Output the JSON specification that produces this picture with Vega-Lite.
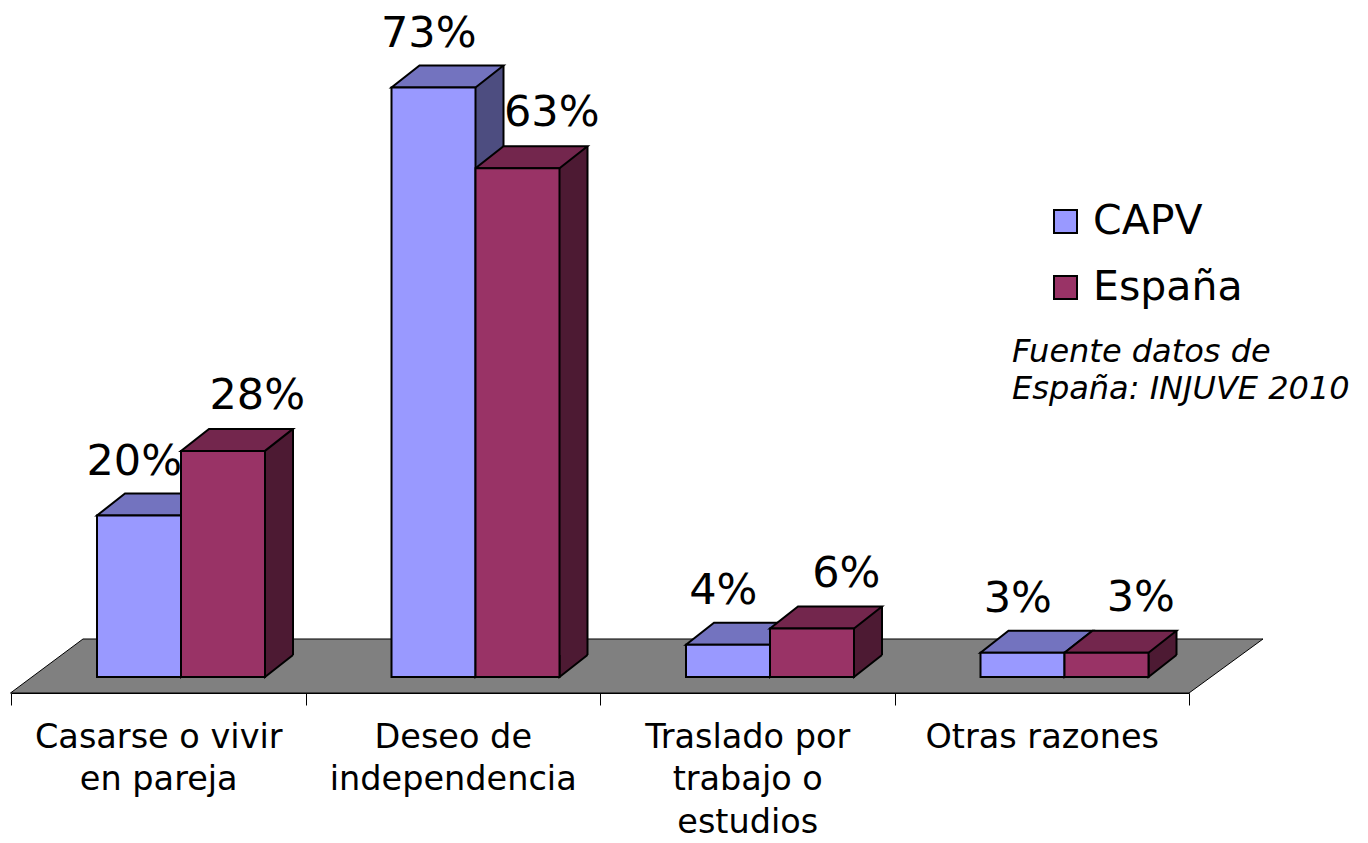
{
  "$schema": "https://vega.github.io/schema/vega-lite/v6.json",
  "autosize": {"type": "none"},
  "padding": {"left": 11, "top": 31, "right": 179, "bottom": 166},
  "width": 1178,
  "height": 646,
  "background": "white",
  "config": {"view": {"stroke": null}},
  "data": {
    "values": [
      {"categoria": "Casarse o vivir|en pareja", "grupo": "CAPV", "valor": 0.20},
      {"categoria": "Casarse o vivir|en pareja", "grupo": "España", "valor": 0.28},
      {"categoria": "Deseo de|independencia", "grupo": "CAPV", "valor": 0.73},
      {"categoria": "Deseo de|independencia", "grupo": "España", "valor": 0.63},
      {"categoria": "Traslado por|trabajo o|estudios", "grupo": "CAPV", "valor": 0.04},
      {"categoria": "Traslado por|trabajo o|estudios", "grupo": "España", "valor": 0.06},
      {"categoria": "Otras razones", "grupo": "CAPV", "valor": 0.03},
      {"categoria": "Otras razones", "grupo": "España", "valor": 0.03}
    ]
  },
  "encoding": {
    "x": {
      "field": "categoria", "type": "nominal", "sort": null,
      "scale": {
        "domain": ["Casarse o vivir|en pareja", "Deseo de|independencia", "Traslado por|trabajo o|estudios", "Otras razones"],
        "paddingInner": 0, "paddingOuter": 0
      },
      "axis": {
        "title": null, "orient": "bottom", "offset": 16,
        "labelExpr": "split(datum.label, '|')",
        "labelFont": "DejaVu Sans", "labelFontSize": 33.5, "labelColor": "black",
        "labelAngle": 0, "labelLineHeight": 42.5, "labelPadding": 16, "labelLimit": 600,
        "labelBaseline": "top",
        "tickBand": "extent", "tickSize": 12, "tickColor": "black", "tickWidth": 1,
        "domainColor": "black", "domainWidth": 1, "grid": false, "zindex": 1
      }
    },
    "y": {
      "field": "valor", "type": "quantitative",
      "scale": {"domain": [0, 0.8], "nice": false, "zero": true},
      "axis": null
    }
  },
  "layer": [
    {
      "transform": [{"filter": "datum.grupo === 'CAPV' && datum.categoria === 'Traslado por|trabajo o|estudios'"}],
      "mark": {"type": "point", "shape": "M-0.99405,0.04286L0.87659,0.04286L0.99405,-0.04286L-0.87897,-0.04286Z", "size": 1587600, "filled": true, "fill": "#808080", "stroke": "black", "strokeWidth": 1, "opacity": 1, "xOffset": -110.5, "yOffset": -11},
      "encoding": {"y": {"datum": 0, "type": "quantitative"}}
    },
    {
      "transform": [{"filter": "datum.grupo === 'CAPV'"}],
      "mark": {"type": "bar", "width": 28, "xOffset": 36.75, "yOffset": -22, "y2Offset": -22, "fill": "#4D4D80", "strokeWidth": 0},
      "encoding": {"y2": {"datum": 0}}
    },
    {
      "transform": [{"filter": "datum.grupo === 'España'"}],
      "mark": {"type": "bar", "width": 28, "xOffset": 120.75, "yOffset": -22, "y2Offset": -22, "fill": "#4D1A33", "strokeWidth": 0},
      "encoding": {"y2": {"datum": 0}}
    },
    {
      "transform": [{"filter": "datum.grupo === 'CAPV'"}],
      "mark": {"type": "point", "shape": "M0.93333,-0.73333L0,0L0,-0.73333", "size": 3600, "filled": true, "fill": "#4D4D80", "stroke": "black", "strokeWidth": 2, "opacity": 1, "xOffset": 22.75},
      "encoding": {"y": {"datum": 0, "type": "quantitative"}}
    },
    {
      "transform": [{"filter": "datum.grupo === 'España'"}],
      "mark": {"type": "point", "shape": "M0.93333,-0.73333L0,0L0,-0.73333", "size": 3600, "filled": true, "fill": "#4D1A33", "stroke": "black", "strokeWidth": 2, "opacity": 1, "xOffset": 106.75},
      "encoding": {"y": {"datum": 0, "type": "quantitative"}}
    },
    {
      "transform": [{"filter": "datum.grupo === 'CAPV'"}],
      "mark": {"type": "rule", "color": "black", "strokeWidth": 2, "xOffset": 50.75, "yOffset": -22, "y2Offset": -22},
      "encoding": {"y2": {"datum": 0}}
    },
    {
      "transform": [{"filter": "datum.grupo === 'España'"}],
      "mark": {"type": "rule", "color": "black", "strokeWidth": 2, "xOffset": 134.75, "yOffset": -22, "y2Offset": -22},
      "encoding": {"y2": {"datum": 0}}
    },
    {
      "transform": [{"filter": "datum.grupo === 'CAPV'"}],
      "mark": {"type": "point", "shape": "M0,0L1.4,0L1.86667,-0.36667L0.46667,-0.36667Z", "size": 14400, "filled": true, "fill": "#7373BF", "stroke": "black", "strokeWidth": 2, "opacity": 1, "xOffset": -61.25}
    },
    {
      "transform": [{"filter": "datum.grupo === 'España'"}],
      "mark": {"type": "point", "shape": "M0,0L1.4,0L1.86667,-0.36667L0.46667,-0.36667Z", "size": 14400, "filled": true, "fill": "#73264D", "stroke": "black", "strokeWidth": 2, "opacity": 1, "xOffset": 22.75}
    },
    {
      "transform": [{"filter": "datum.grupo === 'CAPV'"}],
      "mark": {"type": "bar", "width": 84, "xOffset": -19.25, "stroke": "black", "strokeWidth": 2, "opacity": 1},
      "encoding": {
        "y2": {"datum": 0},
        "color": {
          "field": "grupo", "type": "nominal",
          "scale": {"domain": ["CAPV", "España"], "range": ["#9999FF", "#993366"]},
          "legend": {
            "title": null, "orient": "none", "legendX": 1034, "legendY": 170, "padding": 0,
            "symbolType": "square", "symbolSize": 529, "symbolStrokeColor": "black", "symbolStrokeWidth": 2, "symbolOpacity": 1,
            "labelFont": "DejaVu Sans", "labelFontSize": 41, "labelColor": "black", "labelOffset": 7, "rowPadding": 24, "labelLimit": 400
          }
        }
      }
    },
    {
      "transform": [{"filter": "datum.grupo === 'España'"}],
      "mark": {"type": "bar", "width": 84, "xOffset": 64.75, "stroke": "black", "strokeWidth": 2, "opacity": 1},
      "encoding": {
        "y2": {"datum": 0},
        "color": {"field": "grupo", "type": "nominal"}
      }
    },
    {
      "transform": [{"filter": "datum.grupo === 'CAPV'"}],
      "mark": {"type": "text", "font": "DejaVu Sans", "fontSize": 43, "color": "black", "align": "center", "baseline": "alphabetic", "xOffset": -24, "yOffset": -41},
      "encoding": {"text": {"field": "valor", "type": "quantitative", "format": ".0%"}}
    },
    {
      "transform": [{"filter": "datum.grupo === 'España'"}],
      "mark": {"type": "text", "font": "DejaVu Sans", "fontSize": 43, "color": "black", "align": "center", "baseline": "alphabetic", "xOffset": 99, "yOffset": -42},
      "encoding": {"text": {"field": "valor", "type": "quantitative", "format": ".0%"}}
    },
    {
      "transform": [{"filter": "datum.grupo === 'CAPV' && datum.categoria === 'Otras razones'"}],
      "mark": {"type": "text", "text": ["Fuente datos de", "España: INJUVE 2010"], "font": "DejaVu Sans", "fontSize": 32, "fontStyle": "italic", "color": "black", "align": "left", "baseline": "alphabetic", "lineHeight": 37, "xOffset": -29.75},
      "encoding": {"y": {"datum": 0.39, "type": "quantitative"}}
    }
  ]
}
